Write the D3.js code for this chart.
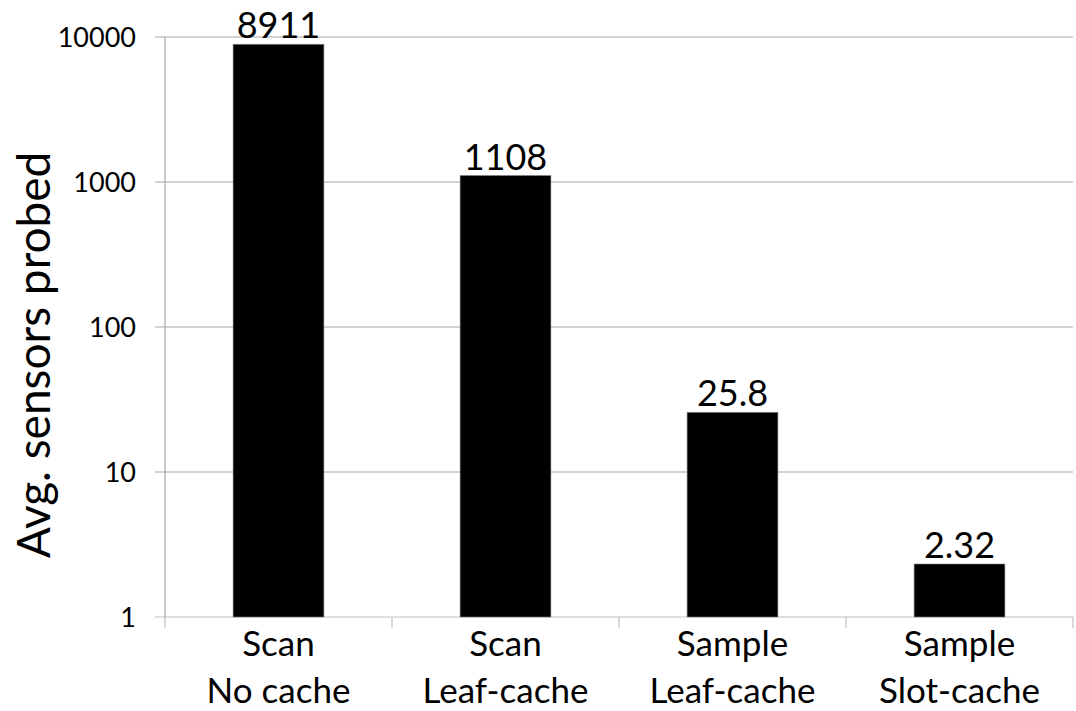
<!DOCTYPE html>
<html lang="en">
<head>
	<meta charset="utf-8">
	<title>Avg. sensors probed</title>
	<script src="https://cdn.jsdelivr.net/npm/d3@7"></script>
	<style>
		body { margin: 0; background: #fff; }
		svg { display: block; font-family: Lato, "Open Sans", sans-serif; }
	</style>
</head>
<body>
	<script>
		// chart data
		var categories = [["Scan", "No cache"], ["Scan", "Leaf-cache"], ["Sample", "Leaf-cache"], ["Sample", "Slot-cache"]];
		var values = [8911, 1108, 25.8, 2.32];
		var valueLabels = ["8911", "1108", "25.8", "2.32"];
		var yTicks = [1, 10, 100, 1000, 10000];

		var w = 1076, h = 711;
		var margin = { top: 37, right: 3, bottom: 94, left: 165 };

		var svg = d3.select("body").append("svg")
			.attr("width", w)
			.attr("height", h);

		var x = d3.scaleBand()
			.domain(d3.range(categories.length))
			.range([margin.left, w - margin.right])
			.paddingInner(0.6)
			.paddingOuter(0.3);

		var xTickScale = d3.scaleLinear()
			.domain([0, categories.length])
			.range([margin.left, w - margin.right]);

		var y = d3.scaleLog()
			.domain([1, 10000])
			.range([h - margin.bottom, margin.top]);

		//gridlines
		svg.append("g")
			.selectAll("line")
			.data(yTicks)
			.enter()
			.append("line")
			.attr("x1", margin.left - 10)
			.attr("x2", w - margin.right)
			.attr("y1", function(d) { return y(d); })
			.attr("y2", function(d) { return y(d); })
			.style("stroke", function(d) { return d === 1 ? "#bfbfbf" : "#a6a6a6"; })
			.style("stroke-width", 1.2);

		//y axis line
		svg.append("line")
			.attr("x1", margin.left).attr("x2", margin.left)
			.attr("y1", y(10000)).attr("y2", y(1))
			.style("stroke", "#a6a6a6")
			.style("stroke-width", 1.2);

		//category ticks
		svg.append("g")
			.selectAll("line")
			.data(d3.range(categories.length + 1))
			.enter()
			.append("line")
			.attr("x1", function(d) { return xTickScale(d); })
			.attr("x2", function(d) { return xTickScale(d); })
			.attr("y1", y(1))
			.attr("y2", y(1) + 11)
			.style("stroke", "#bfbfbf")
			.style("stroke-width", 1.2);

		//y tick labels
		svg.append("g")
			.selectAll("text")
			.data(yTicks)
			.enter()
			.append("text")
			.attr("x", margin.left - 29)
			.attr("y", function(d) { return y(d); })
			.attr("dy", "0.36em")
			.attr("text-anchor", "end")
			.style("font-size", "27px")
			.text(function(d) { return d; });

		//bars
		svg.append("g")
			.selectAll("rect")
			.data(values)
			.enter()
			.append("rect")
			.attr("x", function(d, i) { return x(i); })
			.attr("width", x.bandwidth())
			.attr("y", function(d) { return y(d); })
			.attr("height", function(d) { return y(1) - y(d); })
			.style("fill", "#000")
			.style("stroke", "#7f7f7f")
			.style("stroke-width", 0.6);

		//value labels
		svg.append("g")
			.selectAll("text")
			.data(values)
			.enter()
			.append("text")
			.attr("x", function(d, i) { return x(i) + x.bandwidth() / 2; })
			.attr("y", function(d) { return y(d) - 6; })
			.attr("text-anchor", "middle")
			.style("font-size", "36px")
			.text(function(d, i) { return valueLabels[i]; });

		//category labels, two lines each
		var cat = svg.append("g")
			.selectAll("text")
			.data(categories)
			.enter()
			.append("text")
			.attr("text-anchor", "middle")
			.style("font-size", "35px");

		cat.append("tspan")
			.attr("x", function(d, i) { return x(i) + x.bandwidth() / 2; })
			.attr("y", 656)
			.text(function(d) { return d[0]; });

		cat.append("tspan")
			.attr("x", function(d, i) { return x(i) + x.bandwidth() / 2; })
			.attr("y", 703)
			.text(function(d) { return d[1]; });

		//y axis title
		svg.append("text")
			.attr("transform", "translate(50,355) rotate(-90)")
			.attr("text-anchor", "middle")
			.style("font-size", "46px")
			.text("Avg. sensors probed");
	</script>
</body>
</html>
